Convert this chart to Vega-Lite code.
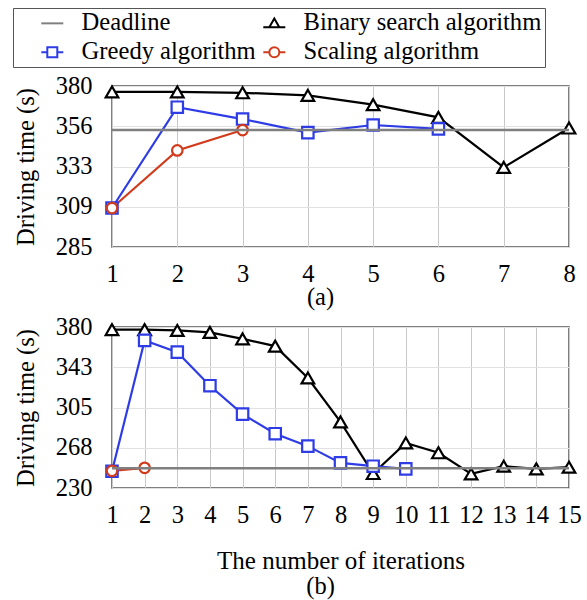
{
  "$schema": "https://vega.github.io/schema/vega-lite/v6.json",
  "background": "white",
  "padding": {"left": 12, "top": 7, "right": 5, "bottom": 5},
  "data": {
    "values": [
      {"p": "a", "s": "Binary search algorithm", "x": 1, "y": 376.5},
      {"p": "a", "s": "Binary search algorithm", "x": 2, "y": 376.5},
      {"p": "a", "s": "Binary search algorithm", "x": 3, "y": 376},
      {"p": "a", "s": "Binary search algorithm", "x": 4, "y": 374.5},
      {"p": "a", "s": "Binary search algorithm", "x": 5, "y": 369},
      {"p": "a", "s": "Binary search algorithm", "x": 6, "y": 361.5},
      {"p": "a", "s": "Binary search algorithm", "x": 7, "y": 332},
      {"p": "a", "s": "Binary search algorithm", "x": 8, "y": 355.2},
      {"p": "a", "s": "Greedy algorithm", "x": 1, "y": 308},
      {"p": "a", "s": "Greedy algorithm", "x": 2, "y": 367.5},
      {"p": "a", "s": "Greedy algorithm", "x": 3, "y": 360.5},
      {"p": "a", "s": "Greedy algorithm", "x": 4, "y": 352.5},
      {"p": "a", "s": "Greedy algorithm", "x": 5, "y": 357},
      {"p": "a", "s": "Greedy algorithm", "x": 6, "y": 354.7},
      {"p": "a", "s": "Scaling algorithm", "x": 1, "y": 308},
      {"p": "a", "s": "Scaling algorithm", "x": 2, "y": 342},
      {"p": "a", "s": "Scaling algorithm", "x": 3, "y": 354},
      {"p": "a", "s": "Deadline", "x": 1, "y": 354},
      {"p": "a", "s": "Deadline", "x": 8, "y": 354},
      {"p": "b", "s": "Binary search algorithm", "x": 1, "y": 377.6},
      {"p": "b", "s": "Binary search algorithm", "x": 2, "y": 377.6},
      {"p": "b", "s": "Binary search algorithm", "x": 3, "y": 376.8},
      {"p": "b", "s": "Binary search algorithm", "x": 4, "y": 375},
      {"p": "b", "s": "Binary search algorithm", "x": 5, "y": 369},
      {"p": "b", "s": "Binary search algorithm", "x": 6, "y": 362.2},
      {"p": "b", "s": "Binary search algorithm", "x": 7, "y": 332.5},
      {"p": "b", "s": "Binary search algorithm", "x": 8, "y": 291.6},
      {"p": "b", "s": "Binary search algorithm", "x": 9, "y": 243.5},
      {"p": "b", "s": "Binary search algorithm", "x": 10, "y": 272},
      {"p": "b", "s": "Binary search algorithm", "x": 11, "y": 262.8},
      {"p": "b", "s": "Binary search algorithm", "x": 12, "y": 243.1},
      {"p": "b", "s": "Binary search algorithm", "x": 13, "y": 250.3},
      {"p": "b", "s": "Binary search algorithm", "x": 14, "y": 247.8},
      {"p": "b", "s": "Binary search algorithm", "x": 15, "y": 249.4},
      {"p": "b", "s": "Greedy algorithm", "x": 1, "y": 245.6},
      {"p": "b", "s": "Greedy algorithm", "x": 2, "y": 367.5},
      {"p": "b", "s": "Greedy algorithm", "x": 3, "y": 356.6},
      {"p": "b", "s": "Greedy algorithm", "x": 4, "y": 325.3},
      {"p": "b", "s": "Greedy algorithm", "x": 5, "y": 298.8},
      {"p": "b", "s": "Greedy algorithm", "x": 6, "y": 280.6},
      {"p": "b", "s": "Greedy algorithm", "x": 7, "y": 269},
      {"p": "b", "s": "Greedy algorithm", "x": 8, "y": 253.4},
      {"p": "b", "s": "Greedy algorithm", "x": 9, "y": 250.3},
      {"p": "b", "s": "Greedy algorithm", "x": 10, "y": 247.8},
      {"p": "b", "s": "Scaling algorithm", "x": 1, "y": 246},
      {"p": "b", "s": "Scaling algorithm", "x": 2, "y": 248.8},
      {"p": "b", "s": "Deadline", "x": 1, "y": 248.3},
      {"p": "b", "s": "Deadline", "x": 15, "y": 248.3}
    ]
  },
  "bounds": "flush",
  "spacing": 80,
  "vconcat": [
    {
      "width": 457,
      "height": 161,
      "title": {"text": "(a)", "orient": "bottom", "anchor": "middle", "frame": "group", "dx": -20, "offset": 0},
      "transform": [{"filter": "datum.p === 'a'"}],
      "encoding": {
        "x": {"field": "x", "type": "quantitative", "scale": {"domain": [1, 8], "nice": false, "zero": false},
              "axis": {"values": [1, 2, 3, 4, 5, 6, 7, 8], "title": null, "labelFlush": false, "labelOverlap": false}},
        "y": {"field": "y", "type": "quantitative", "scale": {"domain": [285, 380], "nice": false, "zero": false},
              "axis": {"values": [285, 308.75, 332.5, 356.25, 380], "format": ".0f", "title": "Driving time (s)", "labelFlush": false, "labelOverlap": false}}
      },
      "layer": [
        {
          "mark": {"type": "point", "opacity": 0},
          "encoding": {
            "color": {"field": "s", "type": "nominal",
                      "scale": {"domain": ["Deadline", "Binary search algorithm", "Greedy algorithm", "Scaling algorithm"],
                                "range": ["#808080", "#000000", "#2e3ce6", "#d13b1c"]},
                      "legend": {"orient": "none", "legendX": -99, "legendY": -78, "columns": 2, "direction": "horizontal",
                                 "title": " ", "titleOrient": "left", "titleFontSize": 1, "titlePadding": 24,
                                 "symbolSize": 484, "symbolStrokeWidth": 2, "symbolOpacity": 1, "symbolOffset": 0,
                                 "labelFontSize": 24.6, "labelFont": "Liberation Serif", "labelColor": "black", "labelLimit": 400,
                                 "labelExpr": "datum.label + '  '",
                                 "strokeColor": "#555555", "fillColor": "white", "padding": 3,
                                 "labelOffset": 17, "columnPadding": 3, "rowPadding": 4}},
            "shape": {"field": "s", "type": "nominal",
                      "scale": {"domain": ["Deadline", "Binary search algorithm", "Greedy algorithm", "Scaling algorithm"],
                                "range": ["M-1,0H1",
                                          "M-1,0.35H1M0,-0.45L0.4545,0.35H-0.4545Z",
                                          "M-1,0H-0.4545M0.4545,0H1M-0.4545,-0.4545H0.4545V0.4545H-0.4545Z",
                                          "M-1,0H-0.4545M0.4545,0H1M-0.4545,0A0.4545,0.4545 0 1,1 0.4545,0A0.4545,0.4545 0 1,1 -0.4545,0Z"]}}
          }
        },
        {
          "transform": [{"filter": "datum.s !== 'Deadline'"}],
          "mark": {"type": "line", "strokeWidth": 2.2},
          "encoding": {
            "stroke": {"field": "s", "type": "nominal",
                       "scale": {"domain": ["Binary search algorithm", "Greedy algorithm", "Scaling algorithm"], "range": ["#000000", "#2e3ce6", "#d13b1c"]},
                       "legend": null}
          }
        },
        {
          "transform": [{"filter": "datum.s !== 'Deadline'"}],
          "mark": {"type": "point", "filled": true, "fill": "white", "strokeWidth": 2.2, "opacity": 1},
          "encoding": {
            "stroke": {"field": "s", "type": "nominal",
                       "scale": {"domain": ["Binary search algorithm", "Greedy algorithm", "Scaling algorithm"], "range": ["#000000", "#2e3ce6", "#d13b1c"]},
                       "legend": null},
            "shape": {"condition": [{"test": "datum.s === 'Greedy algorithm'", "value": "square"}, {"test": "datum.s === 'Scaling algorithm'", "value": "circle"}], "value": "triangle-up"},
            "size": {"condition": [{"test": "datum.s === 'Greedy algorithm'", "value": 130}, {"test": "datum.s === 'Scaling algorithm'", "value": 110}], "value": 160}
          }
        },
        {
          "transform": [{"filter": "datum.s === 'Deadline'"}],
          "mark": {"type": "line", "strokeWidth": 2.5, "color": "#808080"},
          "encoding": {}
        }
      ]
    },
    {
      "width": 457,
      "height": 161,
      "title": {"text": "(b)", "orient": "bottom", "anchor": "middle", "frame": "group", "dx": -20, "offset": 1},
      "transform": [{"filter": "datum.p === 'b'"}],
      "encoding": {
        "x": {"field": "x", "type": "quantitative", "scale": {"domain": [1, 15], "nice": false, "zero": false},
              "axis": {"values": [1, 2, 3, 4, 5, 6, 7, 8, 9, 10, 11, 12, 13, 14, 15], "title": "The number of iterations", "titleFontSize": 25, "titlePadding": 22, "labelFlush": false, "labelOverlap": false}},
        "y": {"field": "y", "type": "quantitative", "scale": {"domain": [230, 380], "nice": false, "zero": false},
              "axis": {"values": [230, 267.5, 305, 342.5, 380], "format": ".0f", "title": "Driving time (s)", "labelFlush": false, "labelOverlap": false}}
      },
      "layer": [
        {
          "transform": [{"filter": "datum.s !== 'Deadline'"}],
          "mark": {"type": "line", "strokeWidth": 2.2},
          "encoding": {
            "stroke": {"field": "s", "type": "nominal",
                       "scale": {"domain": ["Binary search algorithm", "Greedy algorithm", "Scaling algorithm"], "range": ["#000000", "#2e3ce6", "#d13b1c"]},
                       "legend": null}
          }
        },
        {
          "transform": [{"filter": "datum.s !== 'Deadline'"}],
          "mark": {"type": "point", "filled": true, "fill": "white", "strokeWidth": 2.2, "opacity": 1},
          "encoding": {
            "stroke": {"field": "s", "type": "nominal",
                       "scale": {"domain": ["Binary search algorithm", "Greedy algorithm", "Scaling algorithm"], "range": ["#000000", "#2e3ce6", "#d13b1c"]},
                       "legend": null},
            "shape": {"condition": [{"test": "datum.s === 'Greedy algorithm'", "value": "square"}, {"test": "datum.s === 'Scaling algorithm'", "value": "circle"}], "value": "triangle-up"},
            "size": {"condition": [{"test": "datum.s === 'Greedy algorithm'", "value": 130}, {"test": "datum.s === 'Scaling algorithm'", "value": 110}], "value": 160}
          }
        },
        {
          "transform": [{"filter": "datum.s === 'Deadline'"}],
          "mark": {"type": "line", "strokeWidth": 2.5, "color": "#808080"},
          "encoding": {}
        }
      ]
    }
  ],
  "config": {
    "font": "Liberation Serif",
    "view": {"stroke": "#555555", "strokeWidth": 1.5},
    "axis": {"labelFont": "Liberation Serif", "labelFontSize": 24.5, "labelColor": "black",
             "titleFont": "Liberation Serif", "titleFontSize": 24.5, "titleFontWeight": "normal", "titleColor": "black",
             "ticks": false, "domain": false, "gridWidth": 1},
    "axisX": {"gridColor": "#c8c8c8", "labelPadding": 15},
    "axisY": {"gridColor": "#e2e2e2", "labelPadding": 20, "titlePadding": 17},
    "legend": {"labelFont": "Liberation Serif", "labelFontSize": 24.6, "labelColor": "black", "labelLimit": 400},
    "title": {"font": "Liberation Serif", "fontSize": 24.5, "fontWeight": "normal", "color": "black"}
  }
}
